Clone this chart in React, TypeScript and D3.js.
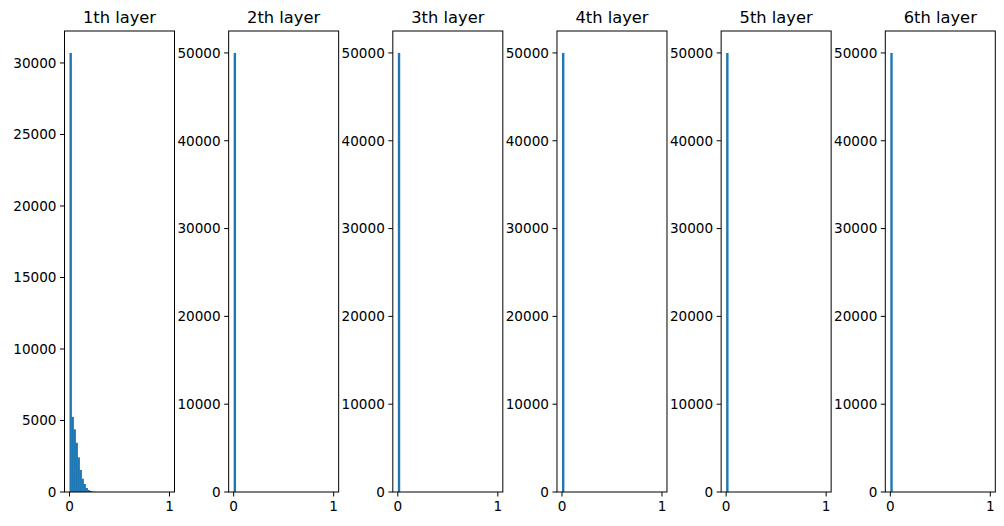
import React from "react";
import * as d3 from "d3";

const titles = ["1th layer", "2th layer", "3th layer", "4th layer", "5th layer", "6th layer"];
const binCount = 50;
const layer1Counts = [30700, 5250, 4380, 3440, 2420, 1540, 930, 560, 280, 140, 70, 30, 10, 0, 0, 0, 0, 0, 0, 0, 0, 0, 0, 0, 0, 0, 0, 0, 0, 0, 0, 0, 0, 0, 0, 0, 0, 0, 0, 0, 0, 0, 0, 0, 0, 0, 0, 0, 0, 0];
const deepCounts = [50000, 0, 0, 0, 0, 0, 0, 0, 0, 0, 0, 0, 0, 0, 0, 0, 0, 0, 0, 0, 0, 0, 0, 0, 0, 0, 0, 0, 0, 0, 0, 0, 0, 0, 0, 0, 0, 0, 0, 0, 0, 0, 0, 0, 0, 0, 0, 0, 0, 0];
const layerCounts = [layer1Counts, deepCounts, deepCounts, deepCounts, deepCounts, deepCounts];
const layer1YTicks = [0, 5000, 10000, 15000, 20000, 25000, 30000];
const deepYTicks = [0, 10000, 20000, 30000, 40000, 50000];
const yTicksList = [layer1YTicks, deepYTicks, deepYTicks, deepYTicks, deepYTicks, deepYTicks];
const xTicks = [0, 1];

const W = 1004, H = 526;
const top = 31, bottom = 492;
const panelW = 110;
const firstLeft = 64.5, spacing = 164.16;
const color = "#1f77b4";
const font = "DejaVu Sans, sans-serif";

export default function App() {
  const bins = d3.range(binCount).map((i) => [i / binCount, (i + 1) / binCount]);
  return (
    <svg width={W} height={H} style={{ position: "absolute", left: 0, top: 0, background: "#fff" }} fontFamily={font}>
      <rect width={W} height={H} fill="#fff" />
      {titles.map((t, pi) => {
        const left = firstLeft + pi * spacing;
        const counts = layerCounts[pi];
        const maxC = d3.max(counts) as number;
        const x = d3.scaleLinear().domain([-0.05, 1.05]).range([left, left + panelW]);
        const y = d3.scaleLinear().domain([0, maxC * 1.05]).range([bottom, top]);
        return (
          <g key={pi}>
            {bins.map((b, i) =>
              counts[i] > 0 ? (
                <rect key={i} x={x(b[0])} width={x(b[1]) - x(b[0]) + 0.4} y={y(counts[i])} height={bottom - y(counts[i])} fill={color} />
              ) : null
            )}
            <rect x={left} y={top} width={panelW} height={bottom - top} fill="none" stroke="#000" strokeWidth={1} />
            {yTicksList[pi].map((v) => (
              <g key={v}>
                <line x1={left - 4.5} x2={left} y1={y(v)} y2={y(v)} stroke="#000" strokeWidth={1} />
                <text x={left - 8} y={y(v)} dy="0.36em" textAnchor="end" fontSize={13.6} fill="#000">{v}</text>
              </g>
            ))}
            {xTicks.map((v) => (
              <g key={v}>
                <line x1={x(v)} x2={x(v)} y1={bottom} y2={bottom + 4.5} stroke="#000" strokeWidth={1} />
                <text x={x(v)} y={bottom + 8.5} dy="0.76em" textAnchor="middle" fontSize={13.6} fill="#000">{v}</text>
              </g>
            ))}
            <text x={left + panelW / 2} y={top - 8} textAnchor="middle" fontSize={16.3} fill="#000">{t}</text>
          </g>
        );
      })}
    </svg>
  );
}
